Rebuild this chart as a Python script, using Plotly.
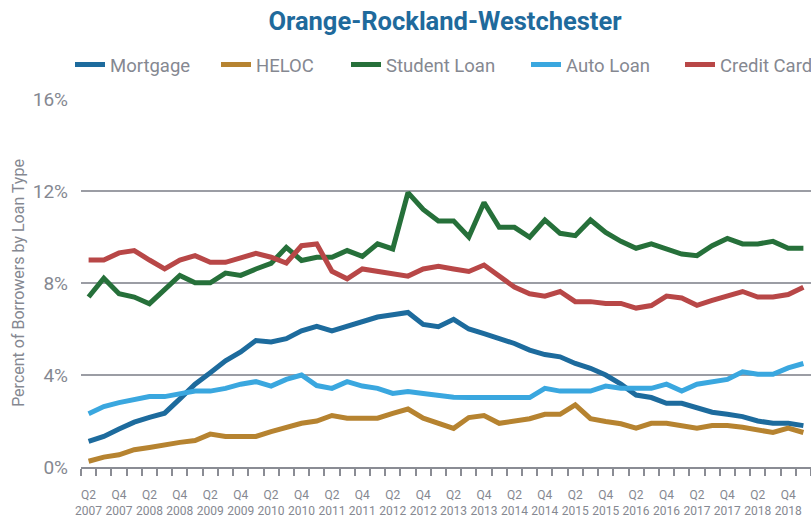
import plotly.graph_objects as go

quarters = []
for y in range(2007, 2020):
    for q in range(1, 5):
        if (y == 2007 and q < 2) or (y == 2019 and q > 1):
            continue
        quarters.append(f"Q{q} {y}")

mortgage = [1.11, 1.33, 1.65, 1.95, 2.16, 2.34, 2.96, 3.6, 4.1, 4.62, 5.0, 5.5,
            5.44, 5.58, 5.92, 6.12, 5.92, 6.13, 6.33, 6.52, 6.62, 6.72, 6.2, 6.1,
            6.42, 6.0, 5.8, 5.58, 5.37, 5.08, 4.89, 4.79, 4.5, 4.29, 4.0, 3.6,
            3.13, 3.02, 2.77, 2.77, 2.55, 2.38, 2.29, 2.19, 2.0, 1.9, 1.9, 1.8]
heloc = [0.25, 0.43, 0.53, 0.75, 0.85, 0.97, 1.07, 1.15, 1.43, 1.33, 1.33, 1.33,
         1.54, 1.73, 1.9, 2.0, 2.24, 2.12, 2.12, 2.12, 2.33, 2.52, 2.12, 1.9,
         1.68, 2.15, 2.24, 1.9, 2.0, 2.1, 2.29, 2.29, 2.7, 2.1, 1.98, 1.88,
         1.69, 1.9, 1.9, 1.8, 1.69, 1.8, 1.8, 1.73, 1.62, 1.5, 1.69, 1.5]
student = [7.39, 8.21, 7.53, 7.39, 7.1, 7.72, 8.33, 8.01, 8.01, 8.43, 8.33, 8.61,
           8.85, 9.55, 8.98, 9.12, 9.12, 9.41, 9.16, 9.7, 9.48, 11.93, 11.2, 10.7,
           10.7, 10.0, 11.5, 10.42, 10.42, 9.99, 10.74, 10.16, 10.06, 10.74, 10.2, 9.81,
           9.51, 9.7, 9.48, 9.26, 9.19, 9.62, 9.94, 9.7, 9.7, 9.81, 9.51, 9.51]
auto = [2.32, 2.63, 2.8, 2.94, 3.06, 3.06, 3.17, 3.3, 3.3, 3.42, 3.6, 3.71,
        3.52, 3.81, 4.0, 3.54, 3.42, 3.71, 3.52, 3.42, 3.2, 3.28, 3.2, 3.13,
        3.03, 3.02, 3.02, 3.02, 3.02, 3.02, 3.42, 3.3, 3.3, 3.3, 3.52, 3.42,
        3.42, 3.42, 3.6, 3.3, 3.6, 3.71, 3.81, 4.14, 4.03, 4.03, 4.31, 4.5]
credit = [9.0, 9.0, 9.31, 9.41, 9.0, 8.61, 9.0, 9.19, 8.9, 8.9, 9.09, 9.29,
          9.12, 8.87, 9.62, 9.7, 8.51, 8.18, 8.61, 8.51, 8.4, 8.3, 8.61, 8.73,
          8.61, 8.5, 8.78, 8.33, 7.82, 7.53, 7.43, 7.63, 7.19, 7.19, 7.11, 7.11,
          6.91, 7.02, 7.43, 7.35, 7.03, 7.24, 7.43, 7.63, 7.39, 7.39, 7.5, 7.82]

series_names = ["Mortgage", "HELOC", "Student Loan", "Auto Loan", "Credit Card"]
series_values = [mortgage, heloc, student, auto, credit]
colors = ["#1d6b9d", "#b68330", "#26703a", "#3aa7df", "#b84747"]

y_ticks = [0, 4, 8, 12, 16]
y_labels = ["0%", "4%", "8%", "12%", "16%"]

x_idx = list(range(len(quarters)))
label_idx = [i for i, q in enumerate(quarters) if q.startswith(("Q2", "Q4")) and i < len(quarters) - 1]
label_txt = [quarters[i].replace(" ", "<br>") for i in label_idx]

GRAY = "#858891"
W, H = 811, 517
L, T, B = 81, 99, 50
legend_text_px = [110, 256, 386, 566, 720]

fig = go.Figure()
for k, (name, vals, col) in enumerate(zip(series_names, series_values, colors)):
    fig.add_trace(go.Scatter(
        x=x_idx, y=vals, name=name, mode="lines",
        line=dict(color=col, width=5),
        legend="legend" if k == 0 else f"legend{k+1}",
        showlegend=True,
        hovertemplate="%{y:.1f}%<extra>" + name + "</extra>",
    ))

legend_common = dict(orientation="h", yref="container", yanchor="middle", y=1 - 65 / H,
                     xref="container", xanchor="left",
                     font=dict(family="Roboto", size=18.5, color=GRAY),
                     bgcolor="rgba(0,0,0,0)", borderwidth=0)
for k, px in enumerate(legend_text_px):
    key = "legend" if k == 0 else f"legend{k+1}"
    fig.update_layout({key: dict(legend_common, x=(px - 40) / W)})

fig.update_layout(
    width=W, height=H, showlegend=True,
    margin=dict(l=L, r=0, t=T, b=B),
    plot_bgcolor="white", paper_bgcolor="white",
    title=dict(text="<b>Orange-Rockland-Westchester</b>", x=445 / W, xanchor="center",
               xref="container", y=1 - 21 / H, yref="container", yanchor="middle",
               font=dict(family="Roboto", size=25.5, color="#1f6a9c")),
    xaxis=dict(range=[-0.5, 47.5], tickvals=label_idx, ticktext=label_txt, ticks="",
               tickfont=dict(family="Roboto", size=12, color=GRAY),
               showgrid=False, zeroline=False, showline=True, linecolor="#8a8c94", linewidth=2,
               ticklabelstandoff=16,
               minor=dict(tickmode="array", tickvals=[i - 0.5 for i in range(len(quarters) + 1)],
                          ticks="outside", ticklen=7, tickwidth=1.5, tickcolor="#8a8c94",
                          showgrid=False)),
    yaxis=dict(range=[0, 16], tickvals=y_ticks, ticktext=y_labels,
               tickfont=dict(family="Roboto", size=19, color=GRAY),
               showgrid=True, gridcolor="#9b9da4", gridwidth=1.5, zeroline=False,
               showline=False, ticks="", ticklabelstandoff=12,
               title=dict(text="Percent of Borrowers by Loan Type", standoff=4,
                          font=dict(family="Roboto", size=16, color=GRAY))),
)

fig.write_html("out.html", config={"displayModeBar": False},
               post_script="document.body.style.margin='0px';")
